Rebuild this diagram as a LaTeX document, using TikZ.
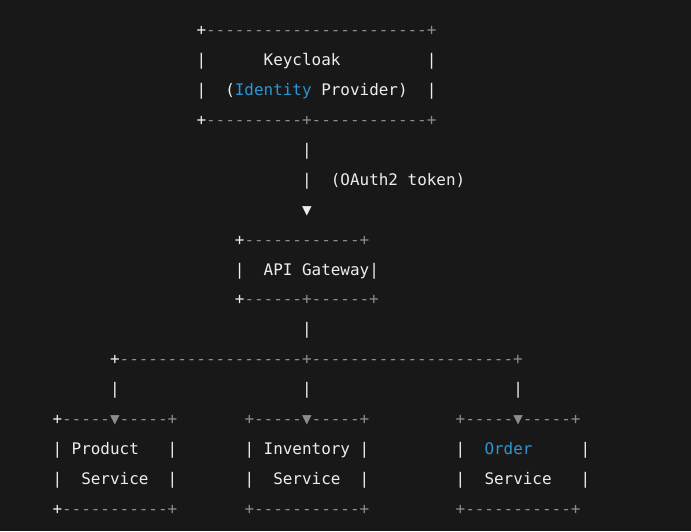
\documentclass[tikz,border=0pt]{standalone}
\usepackage{fontspec}
\setmonofont{DejaVu Sans Mono}
\definecolor{bg}{HTML}{181818}
\definecolor{fg}{HTML}{EDEDED}
\definecolor{dim}{HTML}{8C8C8C}
\definecolor{kw}{HTML}{2E95D3}
\tikzset{
  seg/.style={anchor=base west, inner sep=0pt, outer sep=0pt, text=fg,
    font=\ttfamily\fontsize{15.94}{30}\selectfont},
  dimseg/.style={seg, text=dim},
  kwseg/.style={seg, text=kw}
}
\begin{document}
\begin{tikzpicture}
\fill[bg] (0pt,0pt) rectangle (691pt,531pt);
\useasboundingbox (0pt,0pt) rectangle (691pt,531pt);
\begin{scope}[shift={(52.5pt,495.5pt)}, x=9.6pt, y=-29.94pt]
% Keycloak box
\node[seg] (k0a) at (15,0) {+};
\node[dimseg] (k0b) at (16,0) {-----------------------+};
\node[seg] (k1a) at (15,1) {|};
\node[seg] (k1b) at (22,1) {Keycloak};
\node[seg] (k1c) at (39,1) {|};
\node[seg] (k2a) at (15,2) {|};
\node[seg] (k2b) at (18,2) {(};
\node[kwseg] (k2c) at (19,2) {Identity};
\node[seg] (k2d) at (28,2) {Provider)};
\node[seg] (k2e) at (39,2) {|};
\node[seg] (k3a) at (15,3) {+};
\node[dimseg] (k3b) at (16,3) {----------+------------+};
% token link
\node[seg] (t4) at (26,4) {|};
\node[seg] (t5) at (26,5) {|};
\node[seg] (t5b) at (29,5) {(OAuth2 token)};
\node[seg] (t6) at (26,6) {▼};
% API Gateway
\node[seg] (g7a) at (19,7) {+};
\node[dimseg] (g7b) at (20,7) {------------+};
\node[seg] (g8a) at (19,8) {|};
\node[seg] (g8b) at (22,8) {API Gateway};
\node[seg] (g8c) at (33,8) {|};
\node[seg] (g9a) at (19,9) {+};
\node[dimseg] (g9b) at (20,9) {------+------+};
\node[seg] (l10) at (26,10) {|};
% distribution
\node[seg] (d11a) at (6,11) {+};
\node[dimseg] (d11b) at (7,11) {-------------------+---------------------+};
\node[seg] (d12a) at (6,12) {|};
\node[seg] (d12b) at (26,12) {|};
\node[seg] (d12c) at (48,12) {|};
% service tops
\node[seg] (s13a) at (0,13) {+};
\node[dimseg] (s13b) at (1,13) {-----▼-----+};
\node[dimseg] (s13c) at (20,13) {+-----▼-----+};
\node[dimseg] (s13d) at (42,13) {+-----▼-----+};
% names
\node[seg] (p14a) at (0,14) {|};
\node[seg] (p14b) at (2,14) {Product};
\node[seg] (p14c) at (12,14) {|};
\node[seg] (i14a) at (20,14) {|};
\node[seg] (i14b) at (22,14) {Inventory};
\node[seg] (i14c) at (32,14) {|};
\node[seg] (o14a) at (42,14) {|};
\node[kwseg] (o14b) at (45,14) {Order};
\node[seg] (o14c) at (55,14) {|};
\node[seg] (p15a) at (0,15) {|};
\node[seg] (p15b) at (3,15) {Service};
\node[seg] (p15c) at (12,15) {|};
\node[seg] (i15a) at (20,15) {|};
\node[seg] (i15b) at (23,15) {Service};
\node[seg] (i15c) at (32,15) {|};
\node[seg] (o15a) at (42,15) {|};
\node[seg] (o15b) at (45,15) {Service};
\node[seg] (o15c) at (55,15) {|};
% bottoms
\node[seg] (b16a) at (0,16) {+};
\node[dimseg] (b16b) at (1,16) {-----------+};
\node[dimseg] (b16c) at (20,16) {+-----------+};
\node[dimseg] (b16d) at (42,16) {+-----------+};
\end{scope}
\end{tikzpicture}
\end{document}
